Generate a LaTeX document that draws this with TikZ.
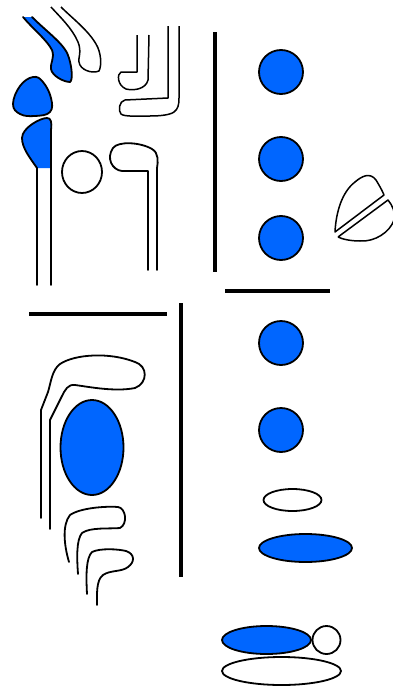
\documentclass[tikz,border=0pt]{standalone}
\begin{document}
\begin{tikzpicture}[x=1pt,y=-1pt,
  outline/.style={draw=black,line width=1.8pt,line join=round,line cap=round},
  thin outline/.style={draw=black,line width=1.5pt,line join=round},
  blueshape/.style={outline,fill=shapeblue},
  rule/.style={draw=black,line width=4.5pt},
  bluefill/.style={fill=shapeblue}]
\definecolor{shapeblue}{RGB}{0,102,255}
\clip (0,0) rectangle (393,688);
\fill[white] (0,0) rectangle (393,688);

% ---------- upper left group ----------
% blue hook
\fill[bluefill] (23,17) -- (32,17) .. controls (48,33) and (66,45) .. (69,58)
  .. controls (72,68) and (73,80) .. (70,82) .. controls (64,82) and (52,76) .. (51,69)
  .. controls (50,63) and (55,58) .. (52,50) .. controls (47,40) and (32,28) .. (23,17) -- cycle;
\draw[outline] (32,17) .. controls (48,33) and (66,45) .. (69,58)
  .. controls (72,68) and (73,80) .. (70,82) .. controls (64,82) and (52,76) .. (51,69)
  .. controls (50,63) and (55,58) .. (52,50) .. controls (47,40) and (32,28) .. (23,17);
% white hook
\draw[thin outline] (51,7) .. controls (60,17) and (72,28) .. (78,42)
  .. controls (82,52) and (78,58) .. (79,62) .. controls (80,70) and (92,74) .. (99,71)
  .. controls (102,65) and (101,52) .. (96,44) .. controls (88,30) and (72,18) .. (61,7);
% blue blob
\draw[blueshape] plot[smooth cycle,tension=0.7] coordinates
  {(33,77) (20,86) (13,104) (20,114) (35,116) (50,112) (51,98) (43,82)};
% blue blob on a tube
\fill[bluefill] (37,168) .. controls (30,158) and (22,148) .. (22,138)
  .. controls (22,128) and (40,118) .. (47,118) .. controls (51,118) and (52,122) .. (51,130)
  -- (51,168) -- cycle;
\draw[outline] (37,285) -- (37,168) .. controls (30,158) and (22,148) .. (22,138)
  .. controls (22,128) and (40,118) .. (47,118) .. controls (51,118) and (52,122) .. (51,130)
  -- (51,285);
% circle
\draw[outline] (82,172) ellipse [x radius=20,y radius=21];
% hook on two rails
\draw[outline] (148,270) -- (148,171) -- (122,171) .. controls (112,170) and (106,158) .. (113,148)
  .. controls (118,141) and (140,142) .. (152,149) .. controls (159,153) and (158,162) .. (157,168) -- (157,270);
% small J
\draw[thin outline] (137,35) -- (137,72) -- (121,72) .. controls (117,74) and (117,85) .. (126,89)
  .. controls (134,91) and (146,89) .. (148,80) -- (149,35);
% big L
\draw[thin outline] (168,26) -- (168,98) -- (125,100) .. controls (119,101) and (118,111) .. (121,114)
  .. controls (124,117) and (140,116) .. (150,116) .. controls (160,116) and (170,115) .. (174,112)
  .. controls (178,109) and (179,105) .. (179,98) -- (179,26);

% ---------- upper right group ----------
\draw[rule] (215,32) -- (215,272);
\draw[blueshape] (281,72) circle (22);
\draw[blueshape] (281,159) circle (22);
\draw[blueshape] (281,238) circle (22);
% split leaf
\draw[thin outline] (335,232) .. controls (336,212) and (342,192) .. (355,182)
  .. controls (362,176) and (370,172) .. (376,180) .. controls (379,185) and (382,190) .. (384,195) -- cycle;
\draw[thin outline] (338,237) -- (388,200) .. controls (392,205) and (396,212) .. (394,220)
  .. controls (390,232) and (375,242) .. (360,241) .. controls (350,241) and (342,239) .. (338,237);
\draw[rule,line width=4pt] (225,290.5) -- (330,290.5);

% ---------- lower left group ----------
\draw[rule,line width=4pt] (29,314) -- (167,314);
\draw[rule,line width=4pt] (181,303) -- (181,577);
% large hook around the oval
\draw[outline] (41,518) -- (41,410) -- (48,392) .. controls (51,382) and (52,370) .. (60,364)
  .. controls (75,354) and (110,352) .. (135,362) .. controls (148,366) and (148,383) .. (135,388)
  .. controls (115,392) and (90,387) .. (75,385) .. controls (68,384) and (65,390) .. (62,396)
  -- (50,420) -- (50,529);
\draw[blueshape] (92,447.5) ellipse [x radius=31.5,y radius=47.5];
% small hooks
\draw[outline] (69,562) .. controls (64,545) and (62,525) .. (70,515)
  .. controls (80,508) and (105,506) .. (118,507) .. controls (126,508) and (128,524) .. (120,528)
  .. controls (110,529) and (90,527) .. (82,533) .. controls (76,540) and (77,560) .. (78,574);
\draw[outline] (87,594) .. controls (86,575) and (86,558) .. (92,552)
  .. controls (100,548) and (118,549) .. (126,551) .. controls (135,554) and (135,562) .. (128,567)
  .. controls (122,572) and (110,570) .. (103,575) .. controls (96,580) and (97,595) .. (97,605);

% ---------- lower right group ----------
\draw[blueshape] (281,343) circle (22);
\draw[blueshape] (281,430) circle (22);
\draw[outline] (292.5,500) ellipse [x radius=29,y radius=11];
\draw[blueshape] (305.5,548) ellipse [x radius=46.5,y radius=14];
\draw[blueshape] (266.5,640) ellipse [x radius=44.5,y radius=14];
\draw[outline] (326.5,640) circle (14);
\draw[outline] (281.5,671) ellipse [x radius=59.5,y radius=14];
\end{tikzpicture}
\end{document}
